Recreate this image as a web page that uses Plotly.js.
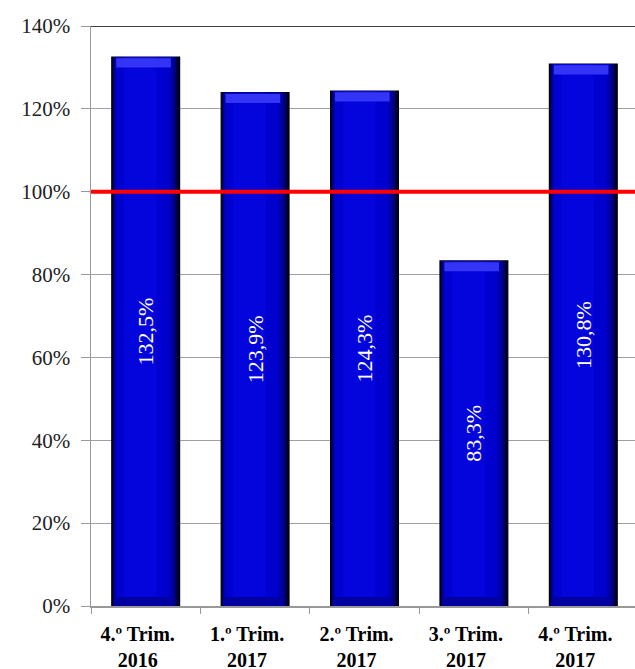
<!DOCTYPE html>
<html>
<head>
<meta charset="utf-8">
<script src="https://cdn.plot.ly/plotly-3.0.1.min.js"></script>
<style>
  html, body { margin: 0; padding: 0; overflow: hidden; background: #fff; }
  #chart { width: 640px; height: 669px; }
</style>
</head>
<body>
<div id="chart"></div>
<script>
// Quarterly ratio, in percent
const quarters = ['4.º Trim.<br>2016', '1.º Trim.<br>2017', '2.º Trim.<br>2017', '3.º Trim.<br>2017', '4.º Trim.<br>2017'];
const ratios = [132.5, 123.9, 124.3, 83.3, 130.8];
const valueLabels = ['132,5%', '123,9%', '124,3%', '83,3%', '130,8%'];
const referenceLevel = 100;
const yTop = 140;

// bevel look: stacked bars of decreasing width, drawn over each other
const BEVEL = 2.2;
const n = ratios.length;
const arr = v => Array(n).fill(v);
const SERIF = 'Times New Roman, Liberation Serif, serif';

const outer = {
  type: 'bar', x: quarters, y: ratios, width: arr(0.62),
  marker: { color: '#000030', line: { color: '#000000', width: 1.2 } },
  hoverinfo: 'skip', showlegend: false
};
const mid = {
  type: 'bar', x: quarters, y: ratios, width: arr(0.58), offset: arr(-0.298),
  marker: { color: '#000078', line: { width: 0 } },
  hoverinfo: 'skip', showlegend: false
};
const midInner = {
  type: 'bar', x: quarters, y: ratios, width: arr(0.54), offset: arr(-0.285),
  marker: { color: '#0000a8', line: { width: 0 } },
  hoverinfo: 'skip', showlegend: false
};
const body = {
  type: 'bar', x: quarters, y: ratios, width: arr(0.49), offset: arr(-0.272),
  marker: { color: '#0000cf', line: { width: 0 } },
  hoverinfo: 'skip', showlegend: false
};
const core = {
  type: 'bar', x: quarters, y: ratios, width: arr(0.3), offset: arr(-0.2),
  marker: { color: '#0404dc', line: { width: 0 } },
  hoverinfo: 'skip', showlegend: false
};
const topBevel = {
  type: 'bar', x: quarters, y: arr(BEVEL), base: ratios.map(v => v - BEVEL - 0.3),
  width: arr(0.5), offset: arr(-0.27),
  marker: { color: '#3434f6', line: { width: 0 } },
  hoverinfo: 'skip', showlegend: false
};
const bottomBevel = {
  type: 'bar', x: quarters, y: arr(BEVEL), base: arr(0),
  width: arr(0.54), offset: arr(-0.29),
  marker: { color: '#0000a0', line: { width: 0 } },
  hoverinfo: 'skip', showlegend: false
};
const labelFont = { family: SERIF, size: 22, color: '#ffffff' };
const labels = {
  type: 'bar', x: quarters, y: ratios, width: arr(0.62),
  marker: { color: 'rgba(0,0,0,0)', line: { width: 0 } },
  text: valueLabels, texttemplate: '%{text}',
  textposition: 'inside', insidetextanchor: 'middle', textangle: -90,
  constraintext: 'none',
  textfont: labelFont, insidetextfont: labelFont,
  hoverinfo: 'skip', showlegend: false
};

const layout = {
  width: 640, height: 669,
  margin: { l: 91, r: 2, t: 26, b: 63 },
  paper_bgcolor: '#ffffff', plot_bgcolor: '#ffffff',
  barmode: 'overlay',
  font: { family: SERIF, color: '#111' },
  xaxis: {
    type: 'category',
    showline: true, linecolor: '#999', linewidth: 1.5,
    ticks: 'outside', tickson: 'boundaries', ticklen: 6, tickcolor: '#999',
    tickfont: { family: SERIF, size: 20, color: '#000', weight: 'bold' },
    ticklabelstandoff: 9, ticklabelshift: -8,
    showgrid: false, fixedrange: true
  },
  yaxis: {
    range: [0, yTop], dtick: 20, ticksuffix: '%',
    showline: true, linecolor: '#999', linewidth: 1.5,
    ticks: 'outside', ticklen: 9, tickcolor: '#999',
    tickfont: { family: SERIF, size: 21, color: '#222' },
    ticklabelstandoff: 6,
    showgrid: true, gridcolor: '#a0a0a0', gridwidth: 1,
    zeroline: false, fixedrange: true
  },
  shapes: [
    { type: 'line', xref: 'paper', x0: 0, x1: 1, yref: 'y', y0: yTop, y1: yTop,
      line: { color: '#000000', width: 1.5 } },
    { type: 'line', xref: 'paper', x0: 0, x1: 1, yref: 'y', y0: referenceLevel, y1: referenceLevel,
      line: { color: '#ff0000', width: 4 } }
  ]
};

Plotly.newPlot('chart', [outer, mid, midInner, body, core, bottomBevel, topBevel, labels], layout,
  { displayModeBar: false, staticPlot: true });
</script>
</body>
</html>
